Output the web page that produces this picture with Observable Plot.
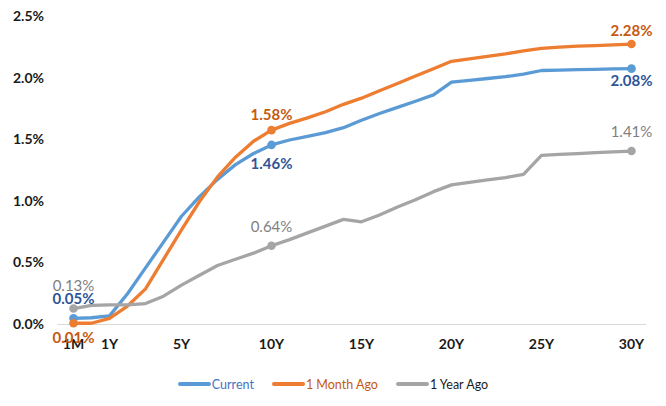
<!DOCTYPE html>
<html>
<head>
<meta charset="utf-8">
<script src="https://cdn.jsdelivr.net/npm/d3@7"></script>
<script src="https://cdn.jsdelivr.net/npm/@observablehq/plot@0.6"></script>
<style>
  body { margin: 0; background: #fff; font-family: Lato, "Open Sans", sans-serif; }
  #chart { width: 666px; }
  .legend { display: flex; justify-content: center; align-items: center; margin-top: 10px; font-size: 12.5px; height: 16px; }
  .item { display: flex; align-items: center; margin: 0 9px; }
  .swatch { width: 33px; height: 3.5px; border-radius: 2px; margin-right: 1px; }
</style>
</head>
<body>
<div id="chart"></div>
<script>
// Maturities (category axis)
const categories = ["1M","6M","1Y","2Y","3Y","4Y","5Y","6Y","7Y","8Y","9Y","10Y",
  "11Y","12Y","13Y","14Y","15Y","16Y","17Y","18Y","19Y","20Y",
  "21Y","22Y","23Y","24Y","25Y","26Y","27Y","28Y","29Y","30Y"];
const xTickLabels = ["1M","1Y","5Y","10Y","15Y","20Y","25Y","30Y"];
const yTicks = [0, 0.5, 1.0, 1.5, 2.0, 2.5];
const seriesNames = ["Current", "1 Month Ago", "1 Year Ago"];

// Yields in %
const current = [0.05,0.055,0.07,0.25,0.46,0.67,0.88,1.04,1.18,1.30,1.39,1.46,
  1.50,1.53,1.56,1.60,1.66,1.715,1.765,1.815,1.867,1.97,
  1.985,2.00,2.015,2.035,2.065,2.068,2.072,2.075,2.078,2.08];
const monthAgo = [0.01,0.01,0.05,0.15,0.29,0.53,0.77,1.00,1.20,1.36,1.49,1.58,
  1.635,1.68,1.73,1.79,1.84,1.90,1.96,2.02,2.08,2.14,
  2.16,2.18,2.20,2.225,2.245,2.255,2.263,2.268,2.274,2.28];
const yearAgo = [0.13,0.155,0.16,0.16,0.17,0.23,0.32,0.40,0.48,0.53,0.58,0.64,
  0.69,0.745,0.80,0.855,0.835,0.89,0.955,1.015,1.08,1.135,
  1.155,1.175,1.195,1.22,1.375,1.383,1.39,1.397,1.404,1.41];
const labeledCategories = ["1M","10Y","30Y"];

const valuesBySeries = [current, monthAgo, yearAgo];
const lineColors = ["#5B9BD5", "#ED7D31", "#A5A5A5"];
const labelColors = ["#2F5597", "#C55A11", "#7F7F7F"];
const labelWeights = ["bold", "bold", "normal"];
const legendTextColors = ["#4472C4", "#C55A11", "#1a1a1a"];

const rows = [];
seriesNames.forEach((s, k) => categories.forEach((c, i) => rows.push({series: s, cat: c, value: valuesBySeries[k][i]})));

// vertical offset of each data label relative to its point
const labelDy = {
  "Current":     {"1M": -19, "10Y": 19, "30Y": 13},
  "1 Month Ago": {"1M": 15,  "10Y": -15, "30Y": -13},
  "1 Year Ago":  {"1M": -22, "10Y": -19, "30Y": -19}
};

const labelMarks = [];
seriesNames.forEach((s, k) => {
  labeledCategories.forEach(c => {
    const d = rows.filter(r => r.series === s && r.cat === c);
    labelMarks.push(Plot.text(d, {
      x: "cat", y: "value", text: r => r.value.toFixed(2) + "%",
      dy: labelDy[s][c], fill: labelColors[k], fontSize: 15, fontWeight: labelWeights[k]
    }));
  });
});

const chart = Plot.plot({
  width: 666, height: 366,
  marginLeft: 57.5, marginRight: 20, marginTop: 16.5, marginBottom: 42,
  style: {fontFamily: "Lato, sans-serif", background: "white"},
  x: {type: "point", domain: categories, padding: 0.5},
  y: {domain: [0, 2.5]},
  color: {domain: seriesNames, range: lineColors},
  marks: [
    Plot.ruleY([0], {stroke: "#d9d9d9", strokeWidth: 1.2}),
    Plot.axisY({ticks: yTicks, tickSize: 0, tickPadding: 14, label: null,
      tickFormat: d => d.toFixed(1) + "%", fontSize: 14, fontWeight: "bold", color: "#1a1a1a"}),
    Plot.axisX({ticks: xTickLabels, tickSize: 0, tickPadding: 15, label: null,
      fontSize: 14, fontWeight: "bold", color: "#1a1a1a"}),
    Plot.line(rows, {x: "cat", y: "value", stroke: "series", z: "series", strokeWidth: 3.3, strokeLinejoin: "round"}),
    Plot.dot(rows.filter(r => labeledCategories.includes(r.cat)), {x: "cat", y: "value", fill: "series", r: 4.3}),
    ...labelMarks
  ]
});
document.getElementById("chart").append(chart);

const legend = document.createElement("div");
legend.className = "legend";
seriesNames.forEach((s, k) => {
  const item = document.createElement("div");
  item.className = "item";
  const sw = document.createElement("div");
  sw.className = "swatch";
  sw.style.background = lineColors[k];
  const t = document.createElement("span");
  t.textContent = s;
  t.style.color = legendTextColors[k];
  item.append(sw, t);
  legend.append(item);
});
document.getElementById("chart").append(legend);
</script>
</body>
</html>
